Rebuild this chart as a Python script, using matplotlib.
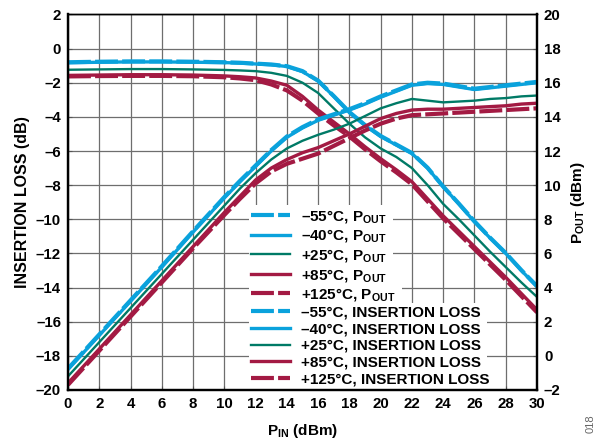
import matplotlib
matplotlib.use("Agg")
import matplotlib.pyplot as plt
from matplotlib.patches import Rectangle

plt.rcParams["font.family"] = ["Liberation Sans", "DejaVu Sans"]
plt.rcParams["font.weight"] = "bold"
plt.rcParams["axes.labelweight"] = "bold"
plt.rcParams["mathtext.fontset"] = "custom"
plt.rcParams["mathtext.rm"] = "Liberation Sans:bold"
plt.rcParams["mathtext.it"] = "Liberation Sans:bold"
plt.rcParams["mathtext.bf"] = "Liberation Sans:bold"

# input power (dBm)
pin = [0, 2, 4, 6, 8, 10, 11, 12, 13, 14, 15, 16, 17, 18, 19, 20,
       21, 22, 23, 24, 25, 26, 27, 28, 29, 30]

# output power (dBm), right axis
pout_m55 = [-0.75, 1.25, 3.25, 5.25, 7.3, 9.3, 10.25, 11.15, 12.05, 12.85, 13.4,
            13.85, 14.15, 14.45, 14.8, 15.2, 15.55, 15.9, 16.0, 15.95, 15.8,
            15.65, 15.75, 15.85, 15.95, 16.05]
pout_m40 = [-0.8, 1.2, 3.2, 5.2, 7.25, 9.25, 10.2, 11.1, 12.0, 12.8, 13.35,
            13.8, 14.1, 14.4, 14.75, 15.15, 15.5, 15.85, 15.95, 15.9, 15.75,
            15.6, 15.7, 15.8, 15.9, 16.0]
pout_p25 = [-1.2, 0.8, 2.8, 4.8, 6.8, 8.8, 9.8, 10.7, 11.5, 12.15, 12.6,
            12.95, 13.25, 13.6, 14.05, 14.5, 14.8, 15.05, 14.95, 14.85, 14.9,
            14.95, 15.05, 15.1, 15.2, 15.25]
pout_p85 = [-1.6, 0.4, 2.4, 4.4, 6.4, 8.4, 9.35, 10.3, 11.0, 11.5, 11.9,
            12.2, 12.6, 13.0, 13.45, 13.9, 14.2, 14.4, 14.45, 14.45, 14.5,
            14.55, 14.6, 14.65, 14.75, 14.8]
pout_p125 = [-1.7, 0.3, 2.3, 4.3, 6.3, 8.25, 9.2, 10.1, 10.8, 11.25, 11.55,
             11.85, 12.3, 12.75, 13.2, 13.6, 13.9, 14.1, 14.15, 14.2, 14.25,
             14.3, 14.35, 14.4, 14.45, 14.5]

# insertion loss (dB), left axis
il_m55 = [-0.8, -0.77, -0.75, -0.75, -0.77, -0.8, -0.83, -0.88, -0.93, -1.03,
          -1.32, -1.88, -2.78, -3.72, -4.48, -5.12, -5.62, -6.12, -6.98, -8.08,
          -9.08, -10.12, -11.08, -11.98, -12.98, -13.92]
il_m40 = [-0.83, -0.8, -0.78, -0.78, -0.8, -0.82, -0.85, -0.9, -0.95, -1.05,
          -1.35, -1.9, -2.8, -3.75, -4.5, -5.15, -5.65, -6.15, -7.0, -8.1,
          -9.1, -10.15, -11.1, -12.0, -13.0, -13.95]
il_p25 = [-1.24, -1.22, -1.2, -1.2, -1.22, -1.25, -1.28, -1.32, -1.42, -1.6,
          -2.0, -2.6, -3.5, -4.4, -5.2, -5.85, -6.35, -7.0, -8.0, -9.1,
          -10.0, -10.95, -11.9, -12.8, -13.7, -14.55]
il_p85 = [-1.57, -1.55, -1.53, -1.53, -1.55, -1.6, -1.65, -1.72, -1.9, -2.15,
          -2.8, -3.6, -4.3, -5.0, -5.75, -6.45, -7.1, -7.8, -8.8, -9.8,
          -10.7, -11.6, -12.5, -13.4, -14.35, -15.3]
il_p125 = [-1.63, -1.61, -1.6, -1.6, -1.62, -1.68, -1.75, -1.85, -2.1, -2.45,
           -3.05, -3.8, -4.5, -5.15, -5.9, -6.6, -7.25, -7.95, -8.95, -9.95,
           -10.85, -11.75, -12.65, -13.55, -14.5, -15.45]

temps = ["–55°C", "–40°C", "+25°C", "+85°C", "+125°C"]
pout_data = [pout_m55, pout_m40, pout_p25, pout_p85, pout_p125]
il_data = [il_m55, il_m40, il_p25, il_p85, il_p125]

CYAN = "#0AA2DC"
GREEN = "#007A66"
RED = "#A31A43"
DASH = (0, (5.5, 1.0))
styles = [(CYAN, DASH, 3.0), (CYAN, "-", 2.4), (GREEN, "-", 1.7),
          (RED, "-", 2.4), (RED, DASH, 3.0)]


def main():
    fig = plt.figure(figsize=(5.98, 4.46), dpi=100)
    ax = fig.add_axes([0.1137, 0.1256, 0.7843, 0.8420])
    ax2 = ax.twinx()

    # solid first, dashed on top
    order = [1, 0, 2, 3, 4]
    il_lines, pout_lines = {}, {}
    for i in order:
        color, ls, lw = styles[i]
        (il_lines[i],) = ax.plot(pin, il_data[i], color=color, linestyle=ls,
                                 linewidth=lw, zorder=2,
                                 label=f"{temps[i]}, INSERTION LOSS")
    for i in order:
        color, ls, lw = styles[i]
        (pout_lines[i],) = ax2.plot(pin, pout_data[i], color=color, linestyle=ls,
                                    linewidth=lw,
                                    label=f"{temps[i]}, P$_{{\\mathrm{{OUT}}}}$")

    ax.set_xlim(0, 30)
    ax.set_ylim(-20, 2)
    ax2.set_ylim(-2, 20)
    ax.set_xticks(range(0, 31, 2))
    ax.set_yticks(range(-20, 3, 2))
    ax2.set_yticks(range(-2, 21, 2))
    ax.set_yticklabels([f"{v}".replace("-", "–") for v in range(-20, 3, 2)])
    ax2.set_yticklabels([f"{v}".replace("-", "–") for v in range(-2, 21, 2)])
    ax.grid(True, color="#6E6E6E", linewidth=0.9, zorder=0.5)
    ax.set_axisbelow(True)

    for a in (ax, ax2):
        a.tick_params(direction="in", length=3, width=0.8, labelsize=10.8,
                      pad=5, color="#555555")
        for side in ("left", "right", "bottom"):
            a.spines[side].set_linewidth(1.6)
        a.spines["top"].set_linewidth(1.0)

    ax.set_ylabel("INSERTION LOSS (dB)", fontsize=11.5, labelpad=4)
    ax.set_xlabel("P$_{\\mathrm{IN}}$ (dBm)", fontsize=11, labelpad=8)
    ax2.set_ylabel("P$_{\\mathrm{OUT}}$ (dBm)", fontsize=11, labelpad=6)

    handles = [pout_lines[i] for i in range(5)] + [il_lines[i] for i in range(5)]
    labels = [h.get_label() for h in handles]
    leg = ax2.legend(handles, labels, loc="lower left",
                     bbox_to_anchor=(0.383, 0.0), fontsize=11,
                     frameon=False, handlelength=2.55, handletextpad=0.7,
                     labelspacing=0.17, borderpad=0.15, borderaxespad=0.1)

    # white backing behind each legend row hides the grid, not the curves
    fig.canvas.draw()
    renderer = fig.canvas.get_renderer()
    inv = ax.transAxes.inverted()
    texts = leg.get_texts()
    boxes = [t.get_window_extent(renderer) for t in texts]
    for t, h in zip(boxes, leg.legend_handles):
        hb = h.get_window_extent(renderer)
        x0, x1 = hb.x0 - 2, t.x1 + 6
        y0, y1 = t.y0 - 2.5, t.y1 + 2.5
        (ax0, ay0), (ax1, ay1) = inv.transform([(x0, y0), (x1, y1)])
        ax.add_patch(Rectangle((ax0, ay0), ax1 - ax0, ay1 - ay0,
                               transform=ax.transAxes, facecolor="white",
                               edgecolor="none", zorder=1))

    fig.text(0.987, 0.03, "018", rotation=90, fontsize=8, color="#666666",
             fontweight="normal", ha="center", va="bottom")

    fig.savefig("out.png", dpi=100)


if __name__ == "__main__":
    main()
